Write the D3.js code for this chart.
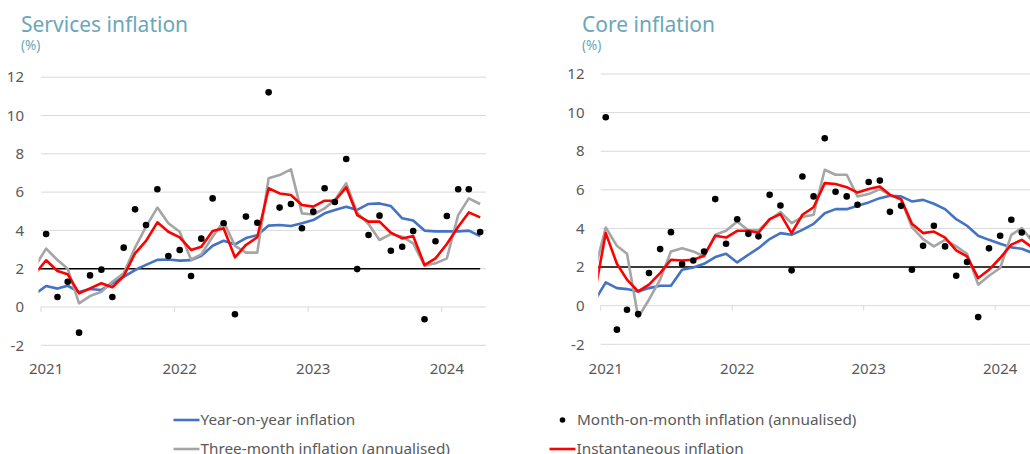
<!DOCTYPE html>
<html>
<head>
<meta charset="utf-8">
<script src="https://cdn.jsdelivr.net/npm/d3@7"></script>
<style>
  body { margin: 0; background: #fff; }
  svg { display: block; font-family: "Noto Sans", "Open Sans", sans-serif; }
</style>
</head>
<body>
<svg id="chart"></svg>
<script>
// months: Dec 2020 (only the start of the line, clipped) to Apr 2024
const months = d3.timeMonths(new Date(2020, 11, 1), new Date(2024, 4, 1));
const yearTicks = [2021, 2022, 2023, 2024];
const yTicks = [-2, 0, 2, 4, 6, 8, 10, 12];
const target = 2;

// Services inflation
const servicesYoy = [0.66, 1.1, 0.96, 1.11, 0.78, 0.94, 0.89, 1.25, 1.57, 1.93, 2.2, 2.46, 2.48, 2.42, 2.45, 2.67, 3.2, 3.46, 3.27, 3.6, 3.75,
  4.25, 4.28, 4.23, 4.37, 4.54, 4.89, 5.07, 5.24, 5.07, 5.38, 5.41, 5.27, 4.63, 4.52, 3.99, 3.95, 3.95, 3.95, 3.99, 3.7];
const servicesThree = [2.09, 3.05, 2.45, 2.0, 0.19, 0.57, 0.8, 1.32, 1.76, 3.1, 4.2, 5.19, 4.37, 3.93, 2.48, 2.75, 3.67, 4.46, 3.19, 2.84, 2.84,
  6.72, 6.89, 7.19, 4.89, 4.83, 5.15, 5.59, 6.46, 4.93, 4.33, 3.5, 3.81, 3.67, 3.32, 2.16, 2.28, 2.54, 4.8, 5.67, 5.38];
const servicesInst = [1.71, 2.44, 1.88, 1.71, 0.71, 0.97, 1.24, 1.03, 1.62, 2.8, 3.45, 4.42, 3.93, 3.64, 2.98, 3.15, 3.97, 4.11, 2.59, 3.24, 3.64,
  6.2, 5.93, 5.85, 5.33, 5.24, 5.55, 5.55, 6.25, 4.8, 4.46, 4.46, 3.88, 3.58, 3.71, 2.19, 2.54, 3.29, 4.19, 4.94, 4.68];
const servicesMom = [null, 3.81, 0.52, 1.32, -1.34, 1.65, 1.95, 0.52, 3.1, 5.1, 4.28, 6.15, 2.66, 2.98, 1.62, 3.57, 5.67, 4.37, -0.38, 4.72, 4.4,
  11.21, 5.19, 5.38, 4.11, 4.98, 6.2, 5.48, 7.73, 1.98, 3.76, 4.77, 2.94, 3.15, 3.97, -0.64, 3.43, 4.75, 6.15, 6.15, 3.92];

// Core inflation
const coreYoy = [0.24, 1.21, 0.91, 0.86, 0.74, 0.91, 1.03, 1.03, 1.86, 1.98, 2.17, 2.52, 2.69, 2.24, 2.64, 2.98, 3.45, 3.76, 3.67, 3.93, 4.24,
  4.79, 5.0, 5.0, 5.17, 5.35, 5.57, 5.69, 5.66, 5.4, 5.48, 5.28, 5.0, 4.48, 4.14, 3.62, 3.41, 3.21, 3.02, 2.95, 2.72];
const coreThree = [1.8, 4.05, 3.1, 2.69, -0.6, 0.31, 1.35, 2.81, 2.98, 2.81, 2.55, 3.67, 3.88, 4.36, 3.9, 3.9, 4.45, 4.85, 4.28, 4.59, 4.71,
  7.04, 6.78, 6.78, 5.66, 5.78, 6.04, 5.74, 5.48, 4.07, 3.45, 3.07, 3.41, 3.07, 2.69, 1.09, 1.55, 1.95, 3.67, 4.02, 3.3];
const coreInst = [0.6, 3.76, 2.17, 1.35, 0.74, 1.09, 1.69, 2.38, 2.34, 2.38, 2.59, 3.62, 3.53, 3.88, 3.88, 3.78, 4.48, 4.74, 3.76, 4.71, 5.1,
  6.35, 6.3, 6.14, 5.86, 6.04, 6.17, 5.74, 5.52, 4.24, 3.76, 3.84, 3.53, 2.86, 2.55, 1.43, 1.86, 2.47, 3.16, 3.41, 2.98];
const coreMom = [null, 9.76, -1.24, -0.21, -0.43, 1.69, 2.93, 3.81, 2.16, 2.34, 2.81, 5.52, 3.21, 4.48, 3.72, 3.59, 5.74, 5.19, 1.83, 6.69, 5.66,
  8.67, 5.9, 5.66, 5.23, 6.41, 6.48, 4.86, 5.17, 1.86, 3.1, 4.14, 3.07, 1.55, 2.26, -0.59, 2.97, 3.62, 4.45, 3.79, 3.6];

const colors = { yoy: '#4472C4', three: '#A5A5A5', inst: '#FF0000', mom: '#000000' };
const titleColor = '#6AA7B8';
const textColor = '#595959';
const gridColor = '#D9D9D9';

const width = 1030;
const height = 454;

const svg = d3.select('#chart').attr('width', width).attr('height', height);

// mid-month dates, like the source chart
const mid = d => new Date(d.getFullYear(), d.getMonth(), 15);

function drawPanel(opts) {
  const { id, title, left, right, top, bottom, labelX, titleX, yoy, three, inst, mom } = opts;

  const x = d3.scaleTime()
    .domain([new Date(2021, 0, 1), new Date(2024, 4, 1)])
    .range([left, right]);
  const y = d3.scaleLinear().domain([-2, 12]).range([bottom, top]);

  const g = svg.append('g');

  // title and unit
  g.append('text')
    .attr('x', titleX).attr('y', 32)
    .attr('fill', titleColor)
    .style('font-size', '21px')
    .text(title);
  g.append('text')
    .attr('x', titleX).attr('y', 50)
    .attr('fill', titleColor)
    .style('font-size', '13.5px')
    .text('(%)');

  // horizontal grid lines + y labels
  g.selectAll('.grid')
    .data(yTicks)
    .enter().append('line')
    .attr('x1', left).attr('x2', right)
    .attr('y1', d => y(d)).attr('y2', d => y(d))
    .attr('stroke', gridColor).attr('stroke-width', 1);

  g.selectAll('.ylab')
    .data(yTicks)
    .enter().append('text')
    .attr('x', labelX).attr('y', d => y(d))
    .attr('dy', '0.35em')
    .attr('text-anchor', 'end')
    .attr('fill', textColor)
    .style('font-size', '15px')
    .text(d => d);

  // year tick marks on the zero line, labels at the bottom
  const years = yearTicks.map(yr => new Date(yr, 0, 1));
  g.selectAll('.xtick')
    .data(years)
    .enter().append('line')
    .attr('x1', d => x(d)).attr('x2', d => x(d))
    .attr('y1', y(0)).attr('y2', y(0) + 5)
    .attr('stroke', gridColor).attr('stroke-width', 1);

  g.selectAll('.xlab')
    .data(years)
    .enter().append('text')
    .attr('x', d => x(mid(d)))
    .attr('y', 374)
    .attr('text-anchor', 'middle')
    .attr('fill', textColor)
    .style('font-size', '15px')
    .text(d => d.getFullYear());

  // plot-area clip
  svg.append('clipPath').attr('id', id)
    .append('rect')
    .attr('x', left - 2.5).attr('y', top - 20)
    .attr('width', right - left + 2.5).attr('height', bottom - top + 40);

  const plot = g.append('g').attr('clip-path', `url(#${id})`);

  const line = d3.line()
    .defined(d => d[1] != null)
    .x(d => x(mid(d[0])))
    .y(d => y(d[1]));

  const series = [
    { vals: months.map(() => target), color: '#000000', w: 1.6 },
    { vals: yoy, color: colors.yoy, w: 2.6 },
    { vals: three, color: colors.three, w: 2.6 },
    { vals: inst, color: colors.inst, w: 2.6 }
  ];

  series.forEach(s => {
    plot.append('path')
      .datum(months.map((m, i) => [m, s.vals[i]]))
      .attr('fill', 'none')
      .attr('stroke', s.color)
      .attr('stroke-width', s.w)
      .attr('stroke-linejoin', 'round')
      .attr('d', line);
  });

  plot.selectAll('.dot')
    .data(months.map((m, i) => [m, mom[i]]).filter(d => d[1] != null))
    .enter().append('circle')
    .attr('cx', d => x(mid(d[0])))
    .attr('cy', d => y(d[1]))
    .attr('r', 3.3)
    .attr('fill', colors.mom);
}

drawPanel({
  id: 'clipServices', title: 'Services inflation',
  left: 41, right: 486, top: 77.2, bottom: 345.3, labelX: 24, titleX: 21,
  yoy: servicesYoy, three: servicesThree, inst: servicesInst, mom: servicesMom
});

drawPanel({
  id: 'clipCore', title: 'Core inflation',
  left: 600.7, right: 1038.7, top: 74, bottom: 344.3, labelX: 584.5, titleX: 582,
  yoy: coreYoy, three: coreThree, inst: coreInst, mom: coreMom
});

// legend (second row is cut by the bottom edge, as in the source image)
const legend = svg.append('g').style('font-size', '15.3px').attr('fill', textColor);
const legendItems = [
  { label: 'Year-on-year inflation', type: 'line', color: colors.yoy, x: 173.5, y: 420 },
  { label: 'Month-on-month inflation (annualised)', type: 'dot', color: colors.mom, x: 549.5, y: 420 },
  { label: 'Three-month inflation (annualised)', type: 'line', color: colors.three, x: 173.5, y: 449 },
  { label: 'Instantaneous inflation', type: 'line', color: colors.inst, x: 549.5, y: 449 }
];

legendItems.forEach(d => {
  if (d.type === 'line') {
    legend.append('line')
      .attr('x1', d.x).attr('x2', d.x + 26)
      .attr('y1', d.y).attr('y2', d.y)
      .attr('stroke', d.color).attr('stroke-width', 2.6);
  } else {
    legend.append('circle')
      .attr('cx', d.x + 13).attr('cy', d.y).attr('r', 2.8)
      .attr('fill', d.color);
  }
  legend.append('text')
    .attr('x', d.x + (d.type === 'line' ? 27 : 27.5))
    .attr('y', d.y)
    .attr('dy', '0.35em')
    .text(d.label);
});
</script>
</body>
</html>
